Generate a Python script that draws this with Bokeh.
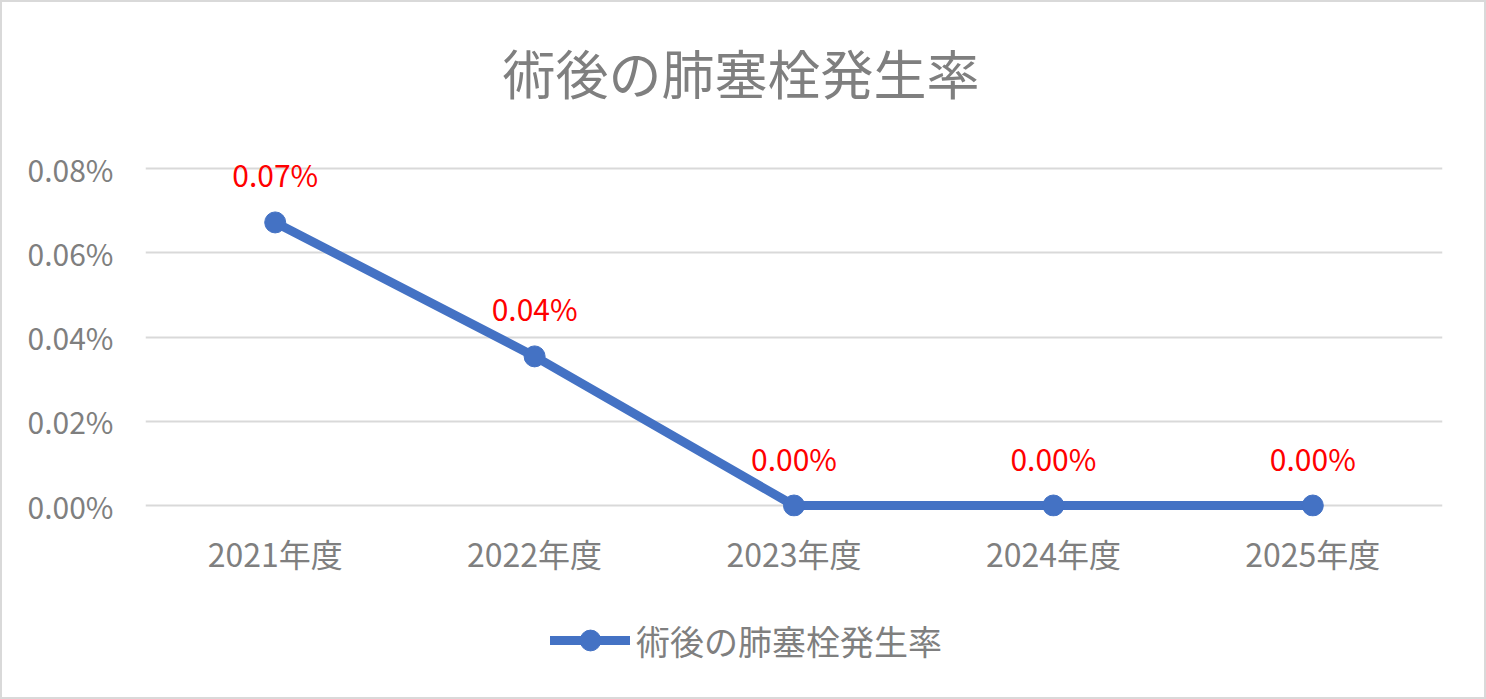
from bokeh.plotting import figure
from bokeh.layouts import column
from bokeh.models import (ColumnDataSource, FixedTicker, NumeralTickFormatter,
                          Legend, LegendItem, Range1d, FactorRange)
from bokeh.core.properties import value
from bokeh.embed import file_html
from bokeh.resources import INLINE

# ---- data ----
years = ["2021年度", "2022年度", "2023年度", "2024年度", "2025年度"]
rates = [0.000672, 0.000354, 0.0, 0.0, 0.0]
y_ticks = [0.0, 0.0002, 0.0004, 0.0006, 0.0008]
series_name = "術後の肺塞栓発生率"
title_text = "術後の肺塞栓発生率"

labels = [f"{v * 100:.2f}%" for v in rates]
src = ColumnDataSource(dict(x=years, y=rates, lab=labels))

FONT = "Noto Sans CJK JP"
GRAY = "#7f7f7f"
BLUE = "#4472c4"

p = figure(frame_width=1297, frame_height=398, output_backend="svg", toolbar_location=None,
           x_range=FactorRange(*years, range_padding=0),
           y_range=Range1d(-0.0000261, 0.0009187),
           min_border_left=143, min_border_right=42,
           min_border_top=116, min_border_bottom=100)

p.outline_line_color = None
p.background_fill_color = "white"
p.border_fill_color = "white"

# title
p.title.text = title_text
p.title.text_font = FONT
p.title.text_font_size = "53px"
p.title.text_font_style = "normal"
p.title.text_color = GRAY
p.title.align = "left"
p.title.offset = 357
p.title.standoff = 18

# grid
p.xgrid.grid_line_color = None
p.ygrid.ticker = FixedTicker(ticks=y_ticks)
p.ygrid.grid_line_color = "#d9d9d9"
p.ygrid.grid_line_width = 2

# axes
p.yaxis.ticker = FixedTicker(ticks=y_ticks)
p.yaxis.formatter = NumeralTickFormatter(format="0.00%")
for ax in (p.xaxis[0], p.yaxis[0]):
    ax.axis_line_color = None
    ax.major_tick_line_color = None
    ax.minor_tick_line_color = None
    ax.major_label_text_font = FONT
    ax.major_label_text_color = GRAY
p.yaxis.major_label_text_font_size = "30px"
p.yaxis.major_label_standoff = 26
p.xaxis.major_label_text_font_size = "32px"
p.xaxis.major_label_standoff = 7

# series
line_r = p.line("x", "y", source=src, line_color=BLUE, line_width=9, line_cap="round")
pt_r = p.scatter("x", "y", source=src, size=21, fill_color=BLUE, line_color=BLUE)

p.text("x", "y", text="lab", source=src, text_color="#ff0000",
       text_font=value(FONT), text_font_size="30px",
       text_align="center", text_baseline="middle", y_offset=-48)

# ---- legend strip below the chart (same series, view range keeps marks out of sight) ----
lg = figure(width=1482, height=81, output_backend="svg", toolbar_location=None,
            x_range=FactorRange(*years, range_padding=0), y_range=Range1d(1, 2),
            x_axis_location=None, y_axis_location=None,
            min_border=0)
lg.outline_line_color = None
lg.grid.visible = False
lg.background_fill_color = "white"
lg.border_fill_color = "white"
lg_line = lg.line("x", "y", source=src, line_color=BLUE, line_width=9, line_cap="round")
lg_pt = lg.scatter("x", "y", source=src, size=21, fill_color=BLUE, line_color=BLUE)

legend = Legend(items=[LegendItem(label=series_name, renderers=[lg_line, lg_pt])],
                location=(405, 31), orientation="horizontal",
                glyph_width=80, glyph_height=52, label_standoff=6,
                label_text_font=FONT, label_text_font_size="34px",
                label_text_color=GRAY, border_line_color=None,
                background_fill_alpha=0, padding=0, margin=0)
lg.add_layout(legend, "center")

layout = column(p, lg, spacing=0)
layout.styles = {"border": "2px solid #d9d9d9"}

open("out.html", "w").write(file_html(layout, INLINE))
